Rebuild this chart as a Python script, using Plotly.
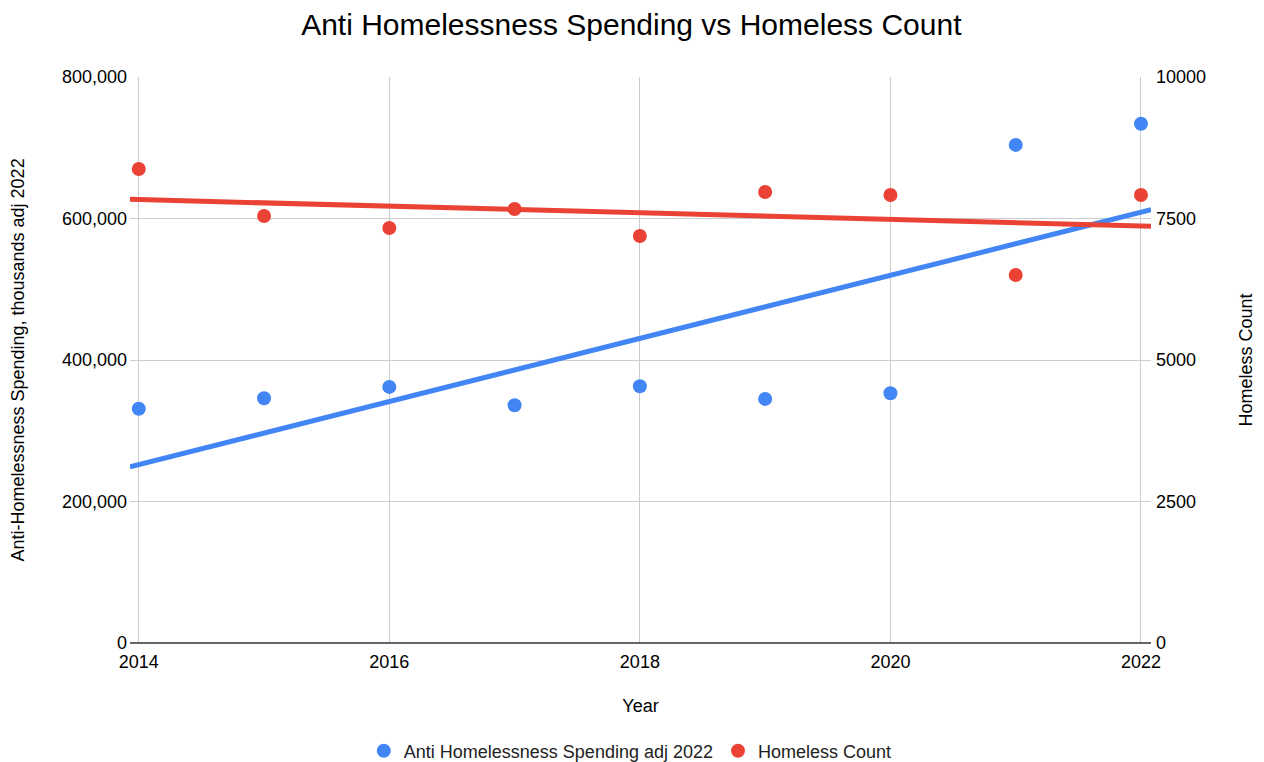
import numpy as np
import plotly.graph_objects as go

years = [2014, 2015, 2016, 2017, 2018, 2019, 2020, 2021, 2022]
spending = [331000, 346000, 362000, 336000, 363000, 345000, 353000, 704000, 734000]
homeless = [8374, 7544, 7332, 7668, 7191, 7968, 7915, 6502, 7915]

blue = "#4285f4"
red = "#ea4335"
x_range = [2013.93, 2022.08]

# linear trendlines, drawn across the whole plot width
xr = np.array(x_range)
trend_s = np.poly1d(np.polyfit(years, spending, 1))(xr)
trend_h = np.poly1d(np.polyfit(years, homeless, 1))(xr)

fig = go.Figure()
fig.add_trace(go.Scatter(x=xr, y=trend_s, mode="lines", line=dict(color=blue, width=5),
                         showlegend=False, hoverinfo="skip"))
fig.add_trace(go.Scatter(x=xr, y=trend_h, mode="lines", line=dict(color=red, width=5),
                         yaxis="y2", showlegend=False, hoverinfo="skip"))
fig.add_trace(go.Scatter(x=years, y=spending, mode="markers",
                         marker=dict(color=blue, size=14),
                         name="Anti Homelessness Spending adj 2022"))
fig.add_trace(go.Scatter(x=years, y=homeless, mode="markers",
                         marker=dict(color=red, size=14),
                         name="Homeless Count", yaxis="y2"))

# page body adds an 8px margin, so the figure is 8px smaller each way
fig.update_layout(
    width=1256, height=754,
    paper_bgcolor="white", plot_bgcolor="white",
    font=dict(family="Liberation Sans, Arial, sans-serif", size=18, color="#000"),
    title=dict(text="Anti Homelessness Spending vs Homeless Count", x=0.491, xanchor="center",
               xref="paper", y=0.9788, yanchor="middle", font=dict(size=30, color="#000"),
               automargin=False),
    margin=dict(l=122, r=113, t=69, b=119, autoexpand=False),
    xaxis=dict(range=x_range, tickvals=[2014, 2016, 2018, 2020, 2022],
               showgrid=True, gridcolor="#cccccc", gridwidth=1, automargin=False,
               showline=False, zeroline=False, ticks="", ticklabelstandoff=6,
               title=dict(text="Year", standoff=28, font=dict(size=18)),
               tickfont=dict(size=18, color="#000")),
    yaxis=dict(range=[0, 800000], tickvals=[0, 200000, 400000, 600000, 800000],
               tickformat=",", showgrid=True, gridcolor="#cccccc", zeroline=False,
               showline=False, ticks="", automargin=False, ticklabelstandoff=2,
               title=dict(text="Anti-Homelessness Spending, thousands adj 2022", standoff=36,
                          font=dict(size=18)),
               tickfont=dict(size=18, color="#000")),
    yaxis2=dict(range=[0, 10000], tickvals=[0, 2500, 5000, 7500, 10000], tickformat="d",
                overlaying="y", side="right", showgrid=False, zeroline=False,
                automargin=False, ticks="", ticklabelstandoff=4,
                title=dict(text="Homeless Count", standoff=34, font=dict(size=18)),
                tickfont=dict(size=18, color="#000")),
    legend=dict(orientation="h", x=0.49, xanchor="center", xref="paper",
                y=0.0146, yanchor="middle", yref="container",
                font=dict(size=18, color="#222"), itemsizing="trace"),
)

fig.add_shape(type="line", xref="paper", yref="paper", x0=0, x1=1, y0=0, y1=0,
              line=dict(color="#333333", width=1.5))

fig.write_html("out.html")
